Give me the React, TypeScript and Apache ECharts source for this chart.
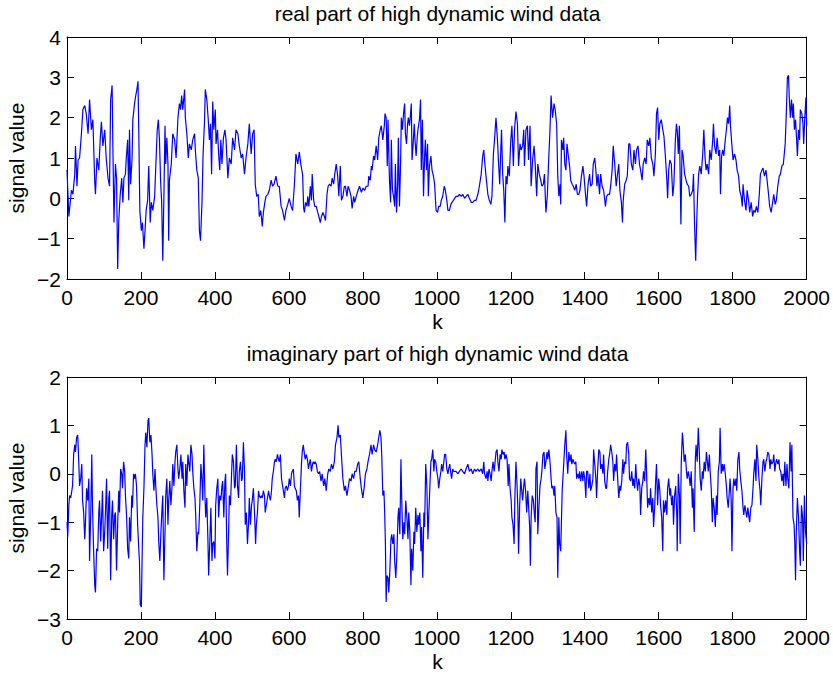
import React, { useEffect, useRef } from "react";
import * as echarts from "echarts";

const FONT = '"Liberation Sans", Arial, Helvetica, sans-serif';

const topTitle = "real part of high dynamic wind data";
const bottomTitle = "imaginary part of high dynamic wind data";
const xName = "k";
const yName = "signal value";

// real part, k 0..637
const realPartA: [number, number][] = [
  [0,0.7],[5,-0.45],[12,0.2],[16,0.1],[21,0.6],[23,1.3],[27,0.3],[30,0.95],[34,1.0],[39,1.6],[43,2.2],[48,2.3],[52,2.1],[57,1.6],[61,2.45],[66,1.7],[70,1.95],[75,0.4],[77,0.1],[81,1.0],[86,0.7],[90,1.5],[93,1.9],[97,1.3],[102,1.7],[106,1.0],[111,0.5],[115,0.3],[118,2.45],[122,2.8],[124,1.3],[127,-0.6],[131,0.85],[134,0.5],[137,-1.75],[140,-0.55],[144,0.1],[148,0.5],[151,-0.1],[154,0.5],[158,0.6],[160,0.95],[164,1.45],[167,-0.05],[169,1.7],[172,0.35],[176,1.0],[178,1.95],[182,2.3],[185,2.5],[189,2.7],[192,2.9],[194,1.7],[197,-0.3],[201,-0.8],[204,-0.6],[208,-1.25],[211,-0.8],[214,-0.3],[218,-0.05],[221,0.8],[223,0.1],[225,-0.6],[228,-0.1],[232,-0.3],[237,0.05],[241,1.0],[244,1.7],[247,1.95],[250,1.45],[253,0.45],[256,-0.1],[259,-1.55],[262,0.05],[265,1.8],[267,0.85],[270,1.5],[273,0.85],[275,-1.05],[277,0.45],[282,0.85],[286,1.6],[291,1.45],[295,1.0],[300,2.0],[304,2.35],[307,2.2],[310,2.55],[313,2.2],[318,2.7],[320,2.0],[324,1.6],[328,1.0],[331,1.35],[336,1.2],[340,1.45],[345,1.6],[347,1.2],[351,0.7],[355,0.5],[358,-0.8],[361,-1.05],[365,-0.1],[368,1.1],[372,1.95],[374,2.7],[378,2.45],[382,1.95],[385,1.45],[388,1.85],[391,0.6],[394,2.4],[397,1.7],[401,2.2],[403,1.35],[407,1.7],[410,1.1],[413,0.7],[416,1.45],[419,0.85],[423,1.5],[427,1.7],[430,1.45],[435,0.5],[439,1.0],[444,0.85],[448,1.5],[453,1.2],[457,1.7],[462,1.6],[466,1.3],[471,1.0],[475,1.1],[480,0.6],[484,1.0],[489,1.35],[493,1.85],[498,1.1],[502,1.6],[506,1.7],[509,0.35],[513,0.05],[517,0.1],[520,-0.45],[524,-0.3],[528,-0.7],[531,-0.35],[535,-0.1],[538,0.05],[543,0.1],[547,0.2],[552,0.45],[556,0.3],[560,0.35],[565,0.55],[570,0.3],[574,0.3],[579,-0.2],[583,-0.3],[588,-0.55],[592,-0.3],[597,-0.15],[601,0.0],[606,-0.2],[610,-0.3],[615,0.35],[619,1.1],[624,0.85],[628,1.15],[633,0.8],[637,0.6]
];

// real part, k 640..1327
const realPartB: [number, number][] = [
  [640,-0.25],[642,-0.35],[645,-0.1],[649,-0.2],[651,0.05],[654,-0.2],[658,0.3],[661,-0.05],[663,0.6],[667,-0.05],[670,-0.2],[674,-0.2],[678,-0.35],[681,-0.45],[685,-0.6],[688,-0.45],[692,-0.35],[696,-0.45],[699,-0.55],[703,0.1],[706,0.3],[710,0.35],[714,0.3],[717,0.5],[721,0.35],[724,0.6],[728,0.85],[732,0.55],[735,0.05],[739,0.8],[742,-0.05],[746,0.05],[750,0.3],[753,0.3],[757,0.05],[760,0.3],[764,0.2],[768,0.05],[771,-0.25],[775,0.05],[778,-0.1],[782,0.05],[787,0.2],[791,0.3],[796,0.15],[800,0.25],[805,0.2],[809,0.3],[814,0.3],[816,0.55],[820,0.45],[823,0.8],[825,0.7],[829,1.05],[832,0.95],[836,1.3],[840,0.95],[843,1.5],[847,1.7],[850,1.8],[854,1.45],[858,1.8],[860,2.1],[863,2.0],[866,0.8],[868,1.95],[872,0.45],[875,-0.1],[877,1.45],[880,0.2],[883,0.05],[886,-0.2],[888,0.85],[891,-0.35],[894,0.35],[896,1.5],[899,-0.2],[902,0.85],[904,2.0],[907,1.7],[910,2.1],[913,2.35],[915,1.6],[918,1.35],[921,1.85],[923,2.0],[926,1.8],[929,2.1],[931,2.35],[933,0.95],[936,1.35],[939,1.85],[941,1.45],[944,1.05],[947,1.5],[949,1.7],[953,1.95],[956,2.45],[958,0.7],[961,1.95],[964,0.05],[967,1.05],[969,1.45],[972,0.7],[975,1.35],[977,0.05],[980,0.8],[984,1.05],[987,0.7],[991,0.55],[994,0.35],[998,-0.3],[1002,-0.35],[1005,-0.2],[1009,-0.2],[1012,-0.05],[1016,0.05],[1020,0.3],[1023,0.2],[1027,-0.05],[1030,-0.3],[1034,-0.3],[1038,-0.15],[1041,-0.1],[1045,-0.05],[1048,0.0],[1052,0.05],[1057,0.05],[1061,0.1],[1066,0.05],[1070,0.1],[1075,0.0],[1079,0.05],[1084,0.1],[1088,0.0],[1093,-0.1],[1097,-0.1],[1102,-0.05],[1106,-0.05],[1111,0.1],[1115,0.3],[1120,0.6],[1124,1.05],[1127,1.2],[1129,0.95],[1133,0.55],[1138,0.1],[1142,-0.05],[1146,-0.15],[1149,0.05],[1153,1.1],[1156,1.45],[1160,2.0],[1164,1.45],[1167,0.85],[1170,0.35],[1173,1.2],[1175,1.7],[1178,0.6],[1181,0.2],[1184,-0.6],[1187,0.55],[1190,0.35],[1192,0.8],[1196,0.55],[1200,1.45],[1203,1.8],[1207,0.8],[1210,1.7],[1214,2.15],[1218,1.85],[1221,0.8],[1225,1.35],[1228,1.2],[1232,1.3],[1235,1.7],[1237,0.8],[1241,1.7],[1245,1.8],[1248,0.95],[1252,1.8],[1255,0.3],[1259,0.95],[1263,1.3],[1266,0.85],[1270,0.05],[1273,0.85],[1277,0.6],[1281,0.45],[1284,0.3],[1288,0.35],[1291,0.6],[1295,-0.35],[1299,0.1],[1302,0.85],[1306,1.7],[1309,2.55],[1313,2.0],[1317,2.35],[1320,2.2],[1324,1.85],[1327,0.55]
];

// real part, k 1330..2000
const realPartC: [number, number][] = [
  [1330,0.05],[1333,0.35],[1335,-0.15],[1337,1.45],[1341,1.2],[1343,1.5],[1346,0.85],[1349,0.7],[1352,1.35],[1355,1.1],[1359,0.8],[1362,0.45],[1366,0.35],[1369,0.3],[1373,0.2],[1377,0.35],[1380,0.1],[1384,0.1],[1387,0.2],[1391,0.55],[1395,0.8],[1398,0.55],[1402,0.1],[1405,-0.2],[1409,0.35],[1413,0.6],[1416,0.3],[1420,0.35],[1423,0.85],[1427,1.0],[1430,0.7],[1433,0.3],[1436,0.6],[1440,0.1],[1443,0.6],[1447,0.3],[1451,0.2],[1456,-0.2],[1459,0.05],[1463,0.1],[1467,0.1],[1470,0.3],[1474,0.7],[1477,1.3],[1481,0.85],[1485,0.3],[1488,0.55],[1492,0.85],[1495,0.2],[1499,-0.1],[1502,-0.6],[1504,-0.05],[1508,0.35],[1512,0.45],[1515,0.55],[1519,1.35],[1522,1.35],[1526,0.85],[1530,0.7],[1533,1.2],[1537,0.85],[1540,1.2],[1544,1.3],[1548,0.85],[1551,0.7],[1555,0.45],[1558,0.85],[1562,1.0],[1566,0.85],[1569,1.45],[1573,1.3],[1576,1.5],[1580,1.0],[1584,0.85],[1587,0.55],[1591,1.1],[1594,2.1],[1597,2.25],[1600,1.45],[1603,1.85],[1607,1.95],[1611,1.7],[1614,1.55],[1618,1.05],[1622,0.45],[1624,0.0],[1627,0.7],[1630,0.95],[1634,0.85],[1638,0.05],[1641,0.35],[1645,1.45],[1648,1.85],[1650,1.7],[1653,1.1],[1656,1.8],[1658,0.55],[1660,-0.65],[1663,1.2],[1666,1.05],[1670,0.6],[1674,0.45],[1677,0.35],[1681,0.3],[1684,0.05],[1688,0.1],[1692,0.2],[1694,0.6],[1697,-0.7],[1700,-1.55],[1702,-0.8],[1705,0.05],[1708,0.6],[1711,0.8],[1715,0.6],[1719,1.1],[1722,1.7],[1725,1.05],[1728,0.7],[1731,0.85],[1735,0.6],[1738,1.2],[1742,0.95],[1746,1.45],[1748,1.85],[1751,1.3],[1755,1.1],[1758,1.5],[1762,1.05],[1765,1.2],[1767,0.1],[1770,1.05],[1773,1.2],[1776,1.05],[1780,1.45],[1783,1.7],[1786,2.0],[1789,1.85],[1792,2.3],[1794,1.8],[1798,1.3],[1801,0.95],[1805,1.1],[1809,0.95],[1812,0.7],[1816,0.55],[1819,0.2],[1823,0.05],[1826,-0.2],[1828,0.35],[1832,-0.05],[1836,-0.3],[1839,0.2],[1843,-0.05],[1846,-0.35],[1850,-0.1],[1854,-0.45],[1857,-0.3],[1861,-0.35],[1864,-0.2],[1868,-0.35],[1872,0.1],[1875,0.6],[1879,0.7],[1882,0.75],[1886,0.55],[1890,0.7],[1893,0.45],[1897,0.1],[1900,-0.2],[1904,-0.35],[1908,-0.1],[1911,0.1],[1915,-0.15],[1918,-0.05],[1922,0.3],[1926,0.55],[1929,0.6],[1933,0.8],[1937,0.85],[1942,1.35],[1945,2.1],[1948,3.0],[1951,3.05],[1953,2.5],[1956,2.0],[1959,2.45],[1962,2.0],[1964,2.35],[1967,1.7],[1970,1.95],[1973,1.45],[1975,1.05],[1978,1.7],[1981,1.45],[1983,2.2],[1987,2.1],[1990,1.85],[1992,1.35],[1995,2.0],[1998,2.5],[2000,1.8]
];

// imaginary part, k 0..680
const imagPartA: [number, number][] = [
  [0,-1.0],[2,-1.3],[5,-0.65],[7,-0.45],[10,-0.5],[13,-0.35],[15,-0.25],[18,0.4],[21,0.6],[23,0.45],[26,0.75],[29,0.8],[32,0.2],[34,-0.25],[37,-0.1],[40,0.2],[42,-0.55],[45,-0.8],[48,-1.35],[50,-1.0],[53,-0.3],[56,-0.55],[59,-0.1],[61,-1.8],[64,-0.9],[67,0.4],[69,-0.7],[72,-1.6],[75,-2.3],[77,-2.45],[80,-1.55],[83,-1.6],[86,-0.8],[88,-0.55],[91,-1.4],[94,-0.8],[96,-0.35],[99,-1.6],[102,-1.2],[104,-0.8],[107,-0.1],[110,-1.55],[113,-0.5],[115,-0.35],[118,-2.2],[121,-0.85],[123,-0.55],[126,-1.35],[129,-0.85],[131,-0.8],[134,-2.0],[137,-1.05],[140,-0.35],[142,-0.8],[145,0.1],[148,0.0],[150,-0.3],[153,0.25],[156,0.05],[158,-0.45],[161,-0.85],[164,-1.55],[167,-1.75],[169,-0.9],[172,-1.4],[175,-0.45],[177,-0.7],[180,0.0],[183,-0.1],[185,0.0],[188,-0.25],[191,-1.05],[194,-1.55],[196,-1.8],[198,-2.7],[201,-2.75],[203,-1.8],[205,-0.9],[208,-0.3],[211,0.6],[213,0.85],[216,0.55],[219,1.1],[221,1.15],[224,0.65],[227,0.8],[230,0.4],[232,0.0],[235,-0.35],[238,0.1],[240,-0.25],[243,-0.65],[246,-0.9],[248,-1.4],[251,-1.8],[254,-1.2],[257,-0.7],[259,-0.45],[262,-2.2],[265,-1.2],[267,-0.45],[270,-0.1],[273,-1.05],[275,-0.55],[278,-0.15],[281,-0.65],[284,-0.25],[286,0.2],[289,-0.25],[292,0.25],[294,0.45],[297,0.6],[300,0.1],[302,-0.1],[305,0.1],[308,0.4],[311,-0.1],[313,0.25],[316,-0.35],[319,-0.7],[321,0.2],[324,-0.25],[327,0.4],[329,0.25],[332,0.05],[335,0.6],[338,0.4],[340,0.05],[343,-0.3],[346,-0.5],[348,-0.85],[351,-1.6],[354,-1.2],[356,-1.25],[359,-0.65],[362,0.2],[365,-0.15],[367,-0.55],[370,0.6],[373,-0.45],[375,-0.9],[378,-0.5],[381,-1.35],[383,-2.1],[386,-1.45],[389,-0.7],[392,-1.8],[394,-1.45],[397,-1.4],[400,-1.75],[402,-0.65],[405,-0.3],[408,-0.1],[410,-0.9],[413,-0.45],[416,-0.55],[419,-0.25],[421,-0.15],[424,-0.9],[427,-0.15],[429,0.0],[432,-1.45],[434,-2.1],[437,-1.2],[439,-0.45],[442,-0.65],[445,0.0],[447,0.4],[450,0.25],[453,-0.3],[455,-0.25],[458,0.6],[461,-0.25],[464,-0.5],[466,0.05],[469,0.25],[472,-0.15],[474,-0.1],[477,0.65],[480,0.05],[482,-1.05],[485,-0.8],[488,-1.45],[491,-1.0],[493,-0.5],[496,-1.05],[499,-0.65],[501,-0.55],[504,-0.3],[507,-0.8],[510,-1.45],[512,-1.05],[515,-0.8],[518,-0.35],[520,-0.45],[523,-0.5],[526,-0.45],[528,-0.5],[531,-0.35],[534,-0.45],[536,-0.8],[539,-0.65],[542,-0.5],[545,-0.35],[547,-0.45],[550,-0.55],[553,-0.35],[555,-0.1],[558,0.05],[561,0.25],[563,0.3],[566,0.25],[569,0.4],[572,0.3],[574,0.25],[577,0.4],[580,-0.1],[583,-0.25],[585,-0.35],[588,-0.5],[590,-0.3],[593,-0.25],[596,-0.35],[599,-0.25],[601,-0.1],[604,-0.25],[607,0.0],[609,0.05],[612,0.1],[615,-0.25],[617,-0.3],[620,-0.35],[623,-0.55],[626,-0.45],[628,-0.9],[631,-0.35],[634,0.2],[636,0.45],[639,0.6],[642,0.4],[644,0.3],[647,0.4],[650,0.3],[653,0.1],[655,0.2],[658,0.3],[661,0.05],[664,0.2],[666,0.25],[669,0.2],[671,0.25],[674,0.2],[677,0.05],[680,0.0]
];

// imaginary part, k 683..1330
const imagPartB: [number, number][] = [
  [683,0.05],[687,-0.15],[690,0.0],[694,-0.25],[697,-0.1],[701,-0.35],[705,0.0],[708,0.1],[712,0.05],[715,0.2],[719,0.1],[723,0.25],[726,0.6],[730,0.75],[733,1.0],[735,0.75],[739,0.8],[742,0.4],[746,-0.1],[750,-0.35],[753,-0.25],[757,-0.45],[760,-0.3],[764,-0.1],[768,-0.15],[771,0.0],[775,-0.1],[778,0.05],[782,0.05],[786,0.2],[789,0.25],[793,-0.1],[796,-0.3],[800,-0.5],[804,-0.25],[807,0.0],[811,0.1],[814,0.25],[818,0.4],[822,0.6],[825,0.4],[829,0.6],[832,0.5],[836,0.45],[840,0.6],[843,0.75],[846,0.9],[849,0.75],[851,0.4],[854,-0.45],[857,-0.35],[859,-0.8],[861,-1.45],[863,-2.65],[865,-2.1],[868,-2.15],[870,-2.45],[873,-2.0],[876,-1.35],[878,-1.25],[881,-1.45],[884,-1.25],[886,-1.8],[889,-2.15],[892,-1.65],[895,-0.9],[897,-0.7],[900,-1.25],[903,0.3],[905,-0.5],[908,-1.35],[911,-1.0],[913,-1.25],[916,-0.55],[919,-0.9],[922,-1.35],[924,-0.8],[927,-1.2],[930,-2.3],[932,-1.55],[935,-2.0],[938,-1.2],[940,-1.45],[943,-0.7],[946,-1.2],[949,-0.85],[951,-1.05],[954,-0.8],[957,-1.6],[959,-1.1],[962,-2.15],[965,-0.8],[967,-1.1],[970,0.2],[973,-0.25],[976,-1.35],[978,-0.9],[981,-0.3],[984,0.25],[986,0.3],[989,0.5],[992,0.05],[994,0.3],[997,0.25],[1000,0.05],[1003,-0.1],[1005,-0.3],[1008,-0.1],[1011,0.05],[1013,0.2],[1016,0.05],[1019,0.25],[1021,0.4],[1024,0.4],[1027,0.1],[1030,0.0],[1032,0.1],[1035,0.2],[1038,0.0],[1040,-0.1],[1043,0.1],[1046,0.05],[1048,0.05],[1052,0.05],[1057,0.0],[1061,0.05],[1066,0.1],[1070,0.05],[1075,0.0],[1079,0.1],[1084,0.2],[1088,0.05],[1093,0.1],[1097,0.0],[1102,0.1],[1106,0.05],[1111,0.1],[1115,0.05],[1120,0.1],[1124,0.0],[1127,0.25],[1129,0.0],[1133,-0.1],[1136,0.05],[1138,-0.15],[1141,0.1],[1144,0.0],[1147,-0.15],[1149,0.05],[1152,0.25],[1155,0.05],[1157,0.2],[1160,0.45],[1163,0.5],[1165,0.25],[1168,0.05],[1171,0.4],[1174,0.3],[1176,0.5],[1179,0.4],[1182,0.45],[1184,0.3],[1187,0.4],[1190,0.3],[1193,-0.25],[1195,0.2],[1198,-0.3],[1201,-0.55],[1203,-0.9],[1206,-1.05],[1209,-1.45],[1211,-0.5],[1214,0.25],[1217,-0.25],[1219,-0.7],[1221,-1.65],[1224,-0.65],[1227,-0.1],[1229,-0.3],[1232,-0.55],[1235,-0.25],[1237,-0.1],[1240,-0.35],[1243,-0.8],[1246,-0.35],[1248,-0.65],[1251,-1.1],[1253,-1.9],[1255,-0.9],[1258,-0.45],[1261,-0.55],[1264,-0.85],[1266,-1.0],[1268,0.1],[1271,0.25],[1273,-1.25],[1276,-0.7],[1279,-0.25],[1282,-0.1],[1284,0.05],[1287,0.4],[1290,0.45],[1292,0.1],[1295,0.25],[1298,0.45],[1300,0.3],[1303,0.5],[1306,0.25],[1309,-0.1],[1311,-0.3],[1314,-0.25],[1317,-0.45],[1319,-0.25],[1322,-0.8],[1325,-0.9],[1327,-2.15],[1330,-0.9]
];

// imaginary part, k 1332..2000
const imagPartC: [number, number][] = [
  [1332,-1.45],[1335,-1.6],[1339,-0.35],[1342,0.05],[1346,0.6],[1349,0.9],[1351,0.4],[1354,0.0],[1357,0.45],[1360,0.25],[1363,0.4],[1365,0.2],[1368,0.3],[1370,0.25],[1373,0.2],[1376,0.25],[1378,-0.1],[1381,0.0],[1384,-0.1],[1386,0.05],[1389,-0.15],[1392,0.05],[1395,-0.15],[1397,0.05],[1400,-0.1],[1403,-0.5],[1405,0.05],[1408,0.05],[1411,-0.3],[1414,0.0],[1416,-0.35],[1419,-0.25],[1422,-0.1],[1424,0.5],[1427,0.2],[1430,-0.1],[1432,-0.5],[1435,0.1],[1438,0.5],[1441,0.45],[1443,0.1],[1446,0.2],[1449,0.0],[1451,0.4],[1454,-0.15],[1457,-0.3],[1459,-0.3],[1462,0.05],[1465,0.3],[1468,0.45],[1470,0.6],[1473,0.45],[1476,0.25],[1478,-0.15],[1481,0.2],[1484,0.05],[1486,0.4],[1489,-0.1],[1492,-0.5],[1495,-0.25],[1497,-0.35],[1500,-0.15],[1503,0.3],[1505,0.0],[1508,0.25],[1511,0.2],[1513,0.6],[1516,0.65],[1519,0.4],[1521,-0.1],[1524,-0.15],[1527,0.05],[1530,-0.25],[1532,-0.1],[1535,-0.3],[1538,0.2],[1540,-0.1],[1543,-0.35],[1546,-0.1],[1549,-0.25],[1551,-0.85],[1554,-0.3],[1557,-0.15],[1559,0.05],[1562,-0.15],[1565,0.5],[1567,0.05],[1570,-0.7],[1573,-0.5],[1576,-0.65],[1578,-0.3],[1581,-0.8],[1584,-0.5],[1586,-1.1],[1589,-0.7],[1592,-0.1],[1594,0.2],[1597,-0.65],[1600,-0.1],[1603,-0.35],[1605,-0.65],[1608,-0.9],[1611,-1.6],[1613,-0.55],[1616,-0.8],[1619,-0.55],[1622,-0.85],[1624,-0.3],[1627,-0.1],[1630,-0.45],[1632,-0.3],[1635,-0.65],[1638,-0.45],[1640,-1.05],[1643,-0.45],[1646,-0.25],[1649,-0.9],[1650,-1.6],[1653,0.0],[1656,-0.45],[1658,-1.45],[1661,0.25],[1664,0.85],[1666,0.65],[1669,0.25],[1672,0.4],[1675,0.05],[1677,-0.1],[1680,0.05],[1683,-0.1],[1685,-0.25],[1688,0.05],[1691,-0.7],[1693,-0.3],[1696,-1.2],[1699,0.3],[1701,0.6],[1704,0.25],[1707,0.95],[1710,0.4],[1712,-0.1],[1715,-0.35],[1718,0.05],[1720,-0.1],[1723,0.25],[1726,0.05],[1729,0.45],[1731,0.3],[1734,0.05],[1737,0.4],[1739,0.05],[1742,-0.3],[1745,-1.0],[1747,-0.5],[1750,-0.7],[1753,-1.1],[1756,-0.45],[1758,-0.85],[1761,0.05],[1764,0.25],[1766,0.95],[1769,0.0],[1772,0.2],[1774,0.05],[1777,0.2],[1780,0.0],[1783,-0.25],[1785,-0.5],[1788,-0.7],[1791,-0.35],[1793,-0.1],[1796,-0.55],[1798,-1.6],[1801,-0.3],[1803,-0.1],[1806,-0.25],[1809,-0.1],[1811,-0.35],[1814,0.3],[1817,0.45],[1819,0.1],[1822,-0.15],[1825,-0.35],[1828,-0.7],[1830,-0.85],[1833,-0.65],[1836,-0.8],[1838,-0.9],[1841,-0.7],[1844,-0.9],[1846,-1.0],[1849,-0.7],[1852,-0.65],[1855,-0.3],[1857,0.0],[1860,0.3],[1863,-0.15],[1865,0.6],[1868,0.3],[1871,-0.1],[1874,-0.35],[1876,-0.65],[1879,-0.1],[1882,0.25],[1884,0.3],[1887,0.05],[1890,0.25],[1892,0.3],[1895,0.45],[1898,0.4],[1901,0.1],[1903,0.3],[1906,0.2],[1909,0.25],[1911,0.4],[1914,0.05],[1917,0.25],[1919,0.3],[1922,0.2],[1925,0.3],[1927,0.1],[1930,0.05],[1933,-0.15],[1936,0.0],[1938,-0.25],[1941,0.25],[1944,-0.25],[1947,0.2],[1949,-0.1],[1952,-0.3],[1955,0.65],[1958,0.05],[1960,0.6],[1963,-0.9],[1966,-1.05],[1968,-1.45],[1970,-2.2],[1972,-1.2],[1975,-0.5],[1978,-0.9],[1981,-1.6],[1983,-1.9],[1986,-0.65],[1989,-0.9],[1991,-1.8],[1994,-0.45],[1997,-1.2],[2000,-1.45]
];

const realPart = [...realPartA, ...realPartB, ...realPartC];
const imagPart = [...imagPartA, ...imagPartB, ...imagPartC];

const kMin = 0;
const kMax = 2000;
const kStep = 200;
const realMin = -2;
const realMax = 4;
const imagMin = -3;
const imagMax = 2;
const valueStep = 1;

const minusFmt = (v: number) => (v < 0 ? "\u2212" + Math.abs(v) : String(v));
const plainFmt = (v: number) => String(v);

export default function App() {
  const ref = useRef<HTMLDivElement>(null);
  useEffect(() => {
    document.body.style.margin = "0";
    if (!ref.current) return;
    const chart = echarts.init(ref.current, undefined, { renderer: "svg" });

    const axisLine = { show: true, onZero: false, lineStyle: { color: "#000", width: 1 } };
    const axisTick = { show: true, inside: true, length: 7, lineStyle: { color: "#000", width: 1 } };
    const label = { show: true, fontSize: 21, color: "#000", fontFamily: FONT };

    const xAx = (grid: number, pos: string, show: boolean) => ({
      type: "value",
      gridIndex: grid,
      position: pos,
      min: kMin,
      max: kMax,
      interval: kStep,
      axisLine,
      axisTick,
      splitLine: { show: false },
      axisLabel: show ? { ...label, margin: 8, formatter: plainFmt } : { show: false },
    });
    const yAx = (grid: number, pos: string, show: boolean, mn: number, mx: number) => ({
      type: "value",
      gridIndex: grid,
      position: pos,
      min: mn,
      max: mx,
      interval: valueStep,
      axisLine,
      axisTick,
      splitLine: { show: false },
      axisLabel: show ? { ...label, margin: 6, formatter: minusFmt } : { show: false },
    });

    const txt = (text: string, x: number, y: number, rot = 0) => ({
      type: "text",
      x,
      y,
      rotation: rot,
      style: {
        text,
        fill: "#000",
        font: `21px ${FONT}`,
        align: "center",
        verticalAlign: "middle",
      },
    });

    chart.setOption({
      animation: false,
      backgroundColor: "#fff",
      grid: [
        { left: 67, top: 37, width: 741, height: 242 },
        { left: 67, top: 377, width: 741, height: 242 },
      ],
      xAxis: [xAx(0, "bottom", true), xAx(0, "top", false), xAx(1, "bottom", true), xAx(1, "top", false)],
      yAxis: [
        yAx(0, "left", true, realMin, realMax),
        yAx(0, "right", false, realMin, realMax),
        yAx(1, "left", true, imagMin, imagMax),
        yAx(1, "right", false, imagMin, imagMax),
      ],
      series: [
        {
          type: "line",
          xAxisIndex: 0,
          yAxisIndex: 0,
          data: realPart,
          showSymbol: false,
          symbol: "none",
          lineStyle: { color: "#0000ff", width: 1.2 },
        },
        {
          type: "line",
          xAxisIndex: 2,
          yAxisIndex: 2,
          data: imagPart,
          showSymbol: false,
          symbol: "none",
          lineStyle: { color: "#0000ff", width: 1.2 },
        },
      ],
      graphic: [
        txt(topTitle, 437.5, 13),
        txt(bottomTitle, 437.5, 353),
        txt(xName, 437.5, 321),
        txt(xName, 437.5, 661),
        txt(yName, 16, 158, Math.PI / 2),
        txt(yName, 16, 498, Math.PI / 2),
      ],
    });
    return () => chart.dispose();
  }, []);
  return <div ref={ref} style={{ width: 833, height: 675 }} />;
}
